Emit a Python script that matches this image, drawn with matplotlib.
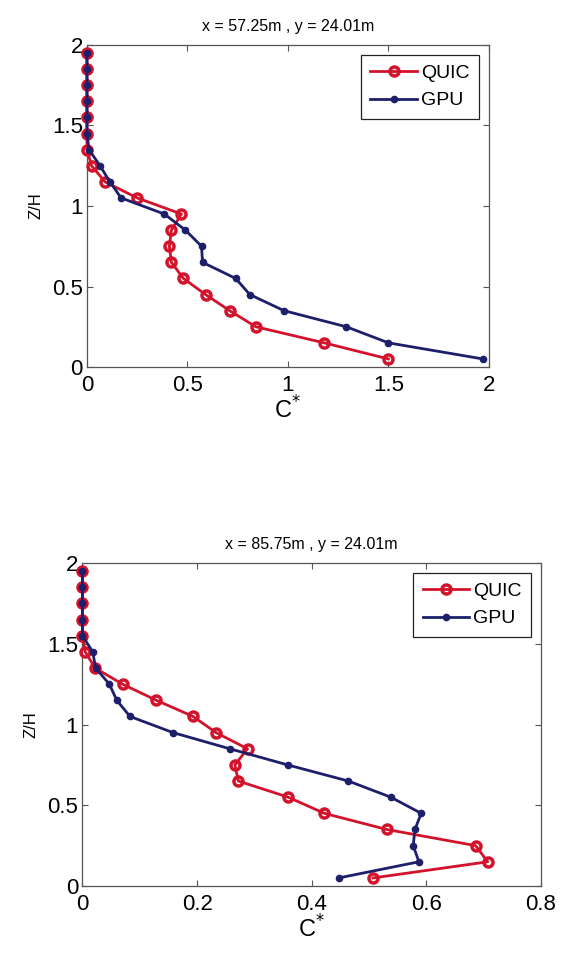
import matplotlib.pyplot as plt

plt.rcParams['font.family'] = ['Liberation Sans', 'DejaVu Sans']

# heights (Z/H) shared by both profiles
zh = [0.05, 0.15, 0.25, 0.35, 0.45, 0.55, 0.65, 0.75, 0.85, 0.95,
      1.05, 1.15, 1.25, 1.35, 1.45, 1.55, 1.65, 1.75, 1.85, 1.95]

# x = 57.25m profile
quic_top = [1.50, 1.18, 0.84, 0.71, 0.59, 0.48, 0.42, 0.41, 0.42, 0.47,
            0.25, 0.09, 0.023, 0.0, 0.0, 0.0, 0.0, 0.0, 0.0, 0.0]
gpu_top = [1.97, 1.50, 1.29, 0.98, 0.81, 0.74, 0.575, 0.57, 0.49, 0.385,
           0.17, 0.114, 0.065, 0.01, 0.0, 0.0, 0.0, 0.0, 0.0, 0.0]

# x = 85.75m profile
quic_bot = [0.507, 0.707, 0.686, 0.531, 0.422, 0.359, 0.272, 0.266, 0.288, 0.233,
            0.193, 0.129, 0.070, 0.022, 0.005, 0.0, 0.0, 0.0, 0.0, 0.0]
gpu_bot = [0.447, 0.587, 0.577, 0.580, 0.591, 0.538, 0.464, 0.358, 0.257, 0.158,
           0.083, 0.060, 0.047, 0.023, 0.018, 0.0, 0.0, 0.0, 0.0, 0.0]

red = "#d3132b"
navy = "#1d1f6b"

fig = plt.figure(figsize=(5.61, 9.59), dpi=100)
ax1 = fig.add_axes([0.155, 0.6173, 0.7166, 0.3358])
ax2 = fig.add_axes([0.1469, 0.0761, 0.8175, 0.3368])

panels = [
    (ax1, quic_top, gpu_top, 2.0, [0, 0.5, 1, 1.5, 2], ["0", "0.5", "1", "1.5", "2"],
     "x = 57.25m , y = 24.01m"),
    (ax2, quic_bot, gpu_bot, 0.8, [0, 0.2, 0.4, 0.6, 0.8], ["0", "0.2", "0.4", "0.6", "0.8"],
     "x = 85.75m , y = 24.01m"),
]

for ax, q, g, xmax, xt, xtl, title in panels:
    ax.plot(q, zh, "-o", color=red, lw=2, ms=6.5, mfc="none", mew=2.5,
            label="QUIC", clip_on=False, zorder=3)
    ax.plot(g, zh, "-o", color=navy, lw=2, ms=4.5, label="GPU",
            clip_on=False, zorder=4)
    ax.set_xlim(0, xmax)
    ax.set_ylim(0, 2)
    ax.set_xticks(xt)
    ax.set_xticklabels(xtl)
    ax.set_yticks([0, 0.5, 1, 1.5, 2])
    ax.set_yticklabels(["0", "0.5", "1", "1.5", "2"])
    ax.tick_params(direction="in", top=True, right=True, labelsize=16,
                   length=4, width=0.8, color="#555555")
    ax.tick_params(axis="x", pad=6)
    ax.tick_params(axis="y", pad=3)
    for s in ax.spines.values():
        s.set_color("#555555")
        s.set_linewidth(0.9)
    ax.set_xlabel("C$^{*}$", fontsize=17, labelpad=0)
    ax.set_ylabel("Z/H", fontsize=12, labelpad=6)
    ax.set_title(title, fontsize=11.5, pad=10)
    leg = ax.legend(loc="upper right", fontsize=14, fancybox=False,
                    framealpha=1, edgecolor="#222222", handlelength=2.4,
                    borderaxespad=0.5, labelspacing=0.5, handletextpad=0.2,
                    borderpad=0.5)
    leg.get_frame().set_linewidth(0.9)

plt.savefig("out.png", dpi=100)
